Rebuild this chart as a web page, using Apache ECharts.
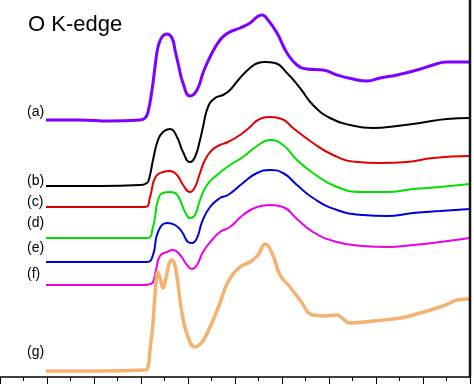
<!DOCTYPE html>
<html>
<head>
<meta charset="utf-8">
<script src="https://cdn.jsdelivr.net/npm/echarts@6/dist/echarts.min.js"></script>
<style>
html,body{margin:0;padding:0;background:#fff;overflow:hidden;}
#chart{width:474px;height:384px;}
</style>
</head>
<body>
<div id="chart"></div>
<script>
// Photon energy (arbitrary scale, one major tick = 47 units) and offset intensities (a.u.)
var xA = [46,80,110,140,145,148,152,155,158,162,167,172,175,178,183,190,197,203,210,220,228,240,250,257,262,268,277,287,297,307,323,337,353,367,380,397,417,433,447,460,470];
var yA = [257,257,256,257,259,265,287,310,330,340,343,339,327,314,294,281,287,304,320,337,344,349,354,360,362,357,344,324,312,308,307,302,298,296,299,302,307,312,315,315,315];

var xB = [46,100,140,147,150,153,158,163,170,177,183,190,195,200,203,208,215,223,230,240,250,258,265,275,287,300,313,330,350,373,397,420,447,470];
var yB = [191,191,192,194,202,217,237,245,248,240,225,215,220,237,250,270,279,282,287,299,309,314,315,314,304,289,272,259,252,249,251,254,258,259];

var xC = [46,100,145,150,155,163,170,177,183,190,195,200,205,212,220,228,240,250,258,270,282,293,313,333,357,380,407,433,470];
var yC = [170,170,170,180,199,205,206,202,192,185,190,204,217,227,232,235,242,250,257,260,258,249,234,222,215,214,215,219,221];

var xD = [46,100,147,153,158,163,170,175,180,185,190,195,200,207,217,230,243,257,270,283,297,313,337,363,387,413,440,470];
var yD = [139,139,139,150,177,184,185,184,177,165,159,162,177,192,202,212,220,231,237,232,217,204,190,185,185,188,190,193];

var xE = [46,100,147,153,158,167,175,182,188,192,197,202,210,220,228,243,257,270,283,297,313,337,363,387,413,440,470];
var yE = [115,115,115,122,145,154,152,145,135,134,139,155,170,179,182,194,204,207,204,192,179,167,162,161,164,166,168];

var xF = [46,100,145,150,153,156,160,167,173,180,187,192,197,203,212,220,230,243,257,270,283,297,313,337,363,387,413,440,470];
var yF = [92,92,92,93,95,107,121,125,127,122,112,108,112,125,137,145,150,162,170,172,170,158,145,135,131,130,132,135,139];

var xG = [46,100,145,148,150,153,155,158,160,163,166,169,172,175,177,182,188,195,202,210,220,228,240,250,258,265,272,280,290,300,313,325,337,342,350,373,400,420,440,450,457,470];
var yG = [6,6,7,10,27,54,82,105,99,89,99,113,117,111,100,64,40,30,35,50,74,95,110,115,122,133,124,102,90,77,62,61,62,59,54,56,59,64,70,74,77,78];

var labels = ['(a)','(b)','(c)','(d)','(e)','(f)','(g)'];
var labelY = [113,182,203,224,249,275,353];
var titleText = 'O K-edge';

function pairs(xs, ys){ var out=[]; for (var i=0;i<xs.length;i++) out.push([xs[i], ys[i]]); return out; }

var seriesDefs = [
  {name:'(a)', x:xA, y:yA, color:'#7f00ff', width:3},
  {name:'(b)', x:xB, y:yB, color:'#000000', width:2},
  {name:'(c)', x:xC, y:yC, color:'#e00000', width:2},
  {name:'(d)', x:xD, y:yD, color:'#00e000', width:2},
  {name:'(e)', x:xE, y:yE, color:'#0000d8', width:2},
  {name:'(f)', x:xF, y:yF, color:'#e800e8', width:2},
  {name:'(g)', x:xG, y:yG, color:'#f6b070', width:3.5}
];

var series = seriesDefs.map(function(s){
  return {
    name: s.name, type:'line', data: pairs(s.x, s.y), showSymbol:false,
    smooth:0.5,
    lineStyle:{color:s.color, width:s.width}, itemStyle:{color:s.color},
    animation:false, silent:true
  };
});

var graphics = labels.map(function(t, i){
  return {type:'text', left: 27, top: labelY[i]-8,
    style:{text:t, fill:'#000', font:'14px "Liberation Sans", Arial, sans-serif'}};
});

var chart = echarts.init(document.getElementById('chart'), null, {renderer:'canvas'});
chart.setOption({
  animation:false,
  backgroundColor:'#fff',
  title:{text:titleText, left:23, top:9,
    textStyle:{fontSize:22, fontWeight:'normal', color:'#000', fontFamily:'"Liberation Sans", Arial, sans-serif'}},
  grid:{left:0, right:4, top:0, bottom:7},
  xAxis:{type:'value', min:0, max:470, interval:47,
    axisLine:{show:true, onZero:false, lineStyle:{color:'#000', width:1.5}},
    axisTick:{show:true, inside:false, length:7, lineStyle:{color:'#000', width:1}},
    minorTick:{show:true, splitNumber:2, length:4, lineStyle:{color:'#000', width:1}},
    axisLabel:{show:false}, splitLine:{show:false}},
  yAxis:{type:'value', show:true, min:0, max:377, position:'right', offset:0,
    axisLine:{show:true, onZero:false, lineStyle:{color:'#000', width:2}},
    axisTick:{show:false}, axisLabel:{show:false}, splitLine:{show:false}},
  graphic: graphics,
  series: series
});

// right-hand frame line of the plot, placed through the axis scales
var pTop = chart.convertToPixel({gridIndex:0}, [470, 377]);
var pBot = chart.convertToPixel({gridIndex:0}, [470, 0]);
graphics.push({type:'line', z:100,
  shape:{x1:pTop[0], y1:pTop[1], x2:pBot[0], y2:pBot[1]},
  style:{stroke:'#111', lineWidth:2.5}});
chart.setOption({graphic: graphics});
</script>
</body>
</html>
